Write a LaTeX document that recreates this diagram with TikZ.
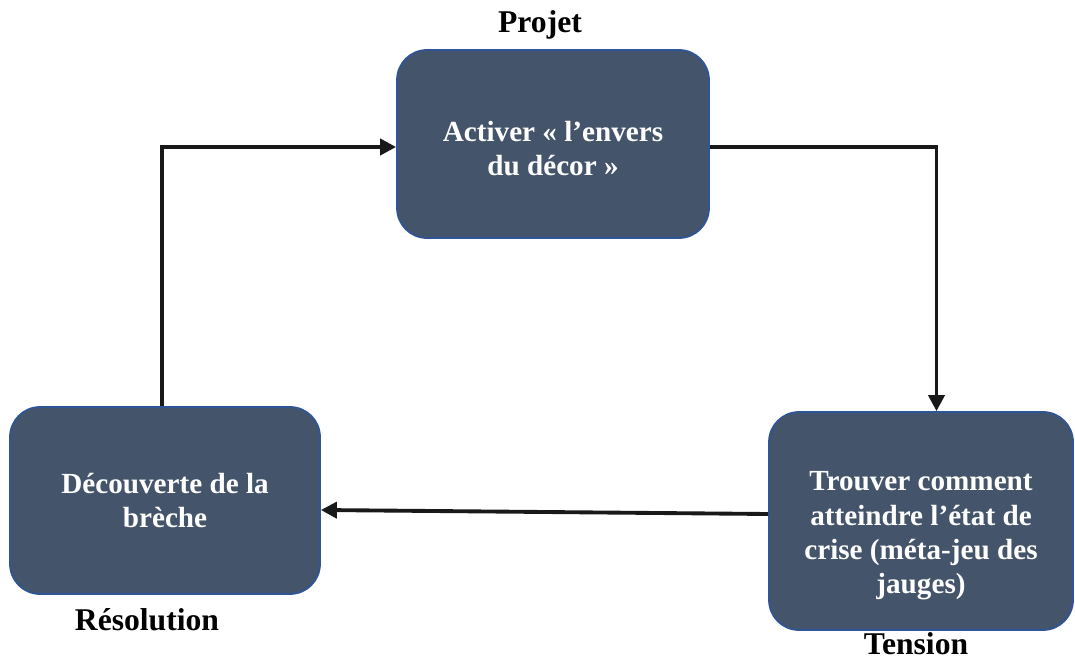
\documentclass[tikz,border=0pt]{standalone}
\usepackage{fontspec}
\setmainfont{Liberation Serif}
\usepackage{tikz}
\usetikzlibrary{arrows.meta, positioning, calc}
\usepackage{xcolor}
\definecolor{boxfill}{HTML}{44546A}
\definecolor{boxline}{HTML}{2F5597}

\begin{document}
\begin{tikzpicture}[
    etape/.style={rectangle, rounded corners=0.6cm, fill=boxfill, draw=boxline, line width=1pt},
    etapetexte/.style={text=white, align=center, font=\fontsize{16.6}{19.6}\selectfont\bfseries},
    phase/.style={font=\fontsize{18}{21}\selectfont\bfseries},
    fleche/.style={line width=2.2pt, black!90, -{Triangle[length=3.2mm,width=3.2mm]}}]
  \useasboundingbox (0,0) rectangle (21.5,13.24);
  % les trois etapes
  \node[etape, minimum width=6.24cm, minimum height=3.76cm] (activer) at (11.06,10.36) {};
  \node[etape, minimum width=6.2cm, minimum height=3.74cm] (decouverte) at (3.3,3.23) {};
  \node[etape, minimum width=6.08cm, minimum height=4.36cm] (trouver) at (18.42,2.82) {};
  \node[etapetexte] (activertexte) at ([yshift=-0.09cm]activer) {Activer « l’envers\\du décor »};
  \node[etapetexte] (decouvertetexte) at (decouverte) {Découverte de la\\brèche};
  \node[etapetexte] (trouvertexte) at ([yshift=-0.3cm]trouver)
    {Trouver comment\\atteindre l’état de\\crise (méta-jeu des\\jauges)};
  % phases
  \node[phase] (projet) at (10.8,12.74) {Projet};
  \node[phase] (resolution) at (2.94,0.84) {Résolution};
  \node[phase] (tension) at (18.32,0.36) {Tension};
  % cycle
  \draw[fleche] ([xshift=-0.06cm]decouverte.north) |- ([yshift=-0.06cm]activer.west);
  \draw[fleche] ([yshift=-0.06cm]activer.east) -| ([xshift=0.31cm]trouver.north);
  \draw[fleche] ([yshift=0.14cm]trouver.west) -- ([yshift=-0.19cm]decouverte.east);
\end{tikzpicture}
\end{document}
